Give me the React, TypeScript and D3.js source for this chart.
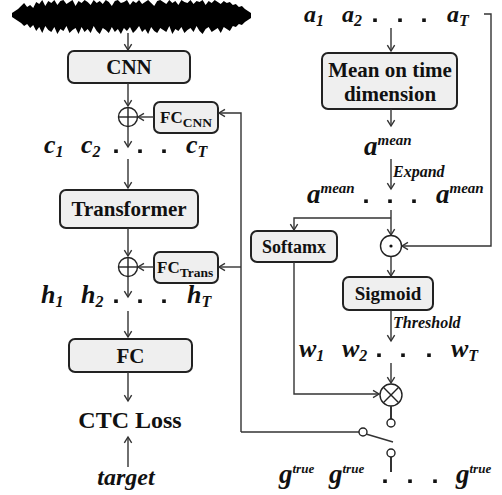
import { useMemo } from 'react'
import { scaleLinear, area, curveLinear } from 'd3'

// waveform envelope (px above / below the centre line)
const waveUp = [2,4,6,9,12,8,10,7,13,11,15,9,14,12,15,10,14,15,11,13,15,9,14,12,15,13,10,15,12,14,11,15,13,9,14,15,12,13,15,10,14,12,15,11,13,15,12,9,14,15,13,11,15,12,14,10,15,13,12,15,11,14,13,15,10,14,12,15,13,11,14,12,13,10,11,8,9,6,4,2]
const waveDown = [2,4,6,8,11,9,13,10,16,12,18,11,15,17,12,19,14,16,11,18,15,13,19,12,17,14,18,11,16,19,13,15,18,12,17,14,19,13,16,12,18,15,11,17,14,19,12,16,18,13,15,17,11,19,14,16,12,18,15,13,17,11,16,19,14,12,17,15,13,18,12,14,16,11,12,9,10,7,5,3]

const leftBoxes = ['CNN', 'Transformer', 'FC']
const fcSubs = ['CNN', 'Trans']
const subs = ['1', '2', 'T']
const meanLines = ['Mean on time', 'dimension']
const rightBoxes = ['Softamx', 'Sigmoid']
const edgeLabels = ['Expand', 'Threshold']

const LINE = '#333'
const SERIF = '"Liberation Serif", "Times New Roman", serif'

const Arrow = ({ pts }: { pts: number[][] }) => {
  const [x1, y1] = pts[pts.length - 2]
  const [x2, y2] = pts[pts.length - 1]
  const a = Math.atan2(y2 - y1, x2 - x1)
  const s = 7, w = 0.55
  const h1 = [x2 - s * Math.cos(a - w), y2 - s * Math.sin(a - w)]
  const h2 = [x2 - s * Math.cos(a + w), y2 - s * Math.sin(a + w)]
  return (
    <g stroke={LINE} strokeWidth={1.4} fill="none">
      <polyline points={pts.map(p => p.join(',')).join(' ')} />
      <polyline points={`${h1.join(',')} ${x2},${y2} ${h2.join(',')}`} />
    </g>
  )
}

const Line = ({ pts, w = 1.4 }: { pts: number[][], w?: number }) => (
  <polyline points={pts.map(p => p.join(',')).join(' ')} stroke={LINE} strokeWidth={w} fill="none" />
)

const Box = ({ x, y, w, h, label, size = 21 }: any) => (
  <g>
    <rect x={x} y={y} width={w} height={h} rx={6} fill="#efefef" stroke="#222" strokeWidth={2} />
    {label && (
      <text x={x + w / 2} y={y + h / 2 + size * 0.34} textAnchor="middle" fontSize={size} fontWeight="bold" fontFamily={SERIF} fill="#111">{label}</text>
    )}
  </g>
)

const Var = ({ x, y, v, sub, size = 26 }: any) => (
  <text x={x} y={y} fontSize={size} fontWeight="bold" fontStyle="italic" fontFamily={SERIF} fill="#111">
    {v}<tspan fontSize={16} dy={4}>{sub}</tspan>
  </text>
)

const Sup = ({ x, y, v, sup, size = 27, supSize = 15 }: any) => (
  <text x={x} y={y} fontSize={size} fontWeight="bold" fontStyle="italic" fontFamily={SERIF} fill="#111">
    {v}<tspan fontSize={supSize} dy={-10}>{sup}</tspan>
  </text>
)

const Dots = ({ xs, y }: { xs: number[], y: number }) => (
  <g>
    {xs.map((x, i) => <rect key={i} x={x - 1.8} y={y - 3.6} width={3.6} height={3.6} fill="#111" />)}
  </g>
)

const Node = ({ cx, cy, r = 9.5, kind }: any) => (
  <g stroke="#222" strokeWidth={1.4} fill="white">
    <circle cx={cx} cy={cy} r={r} />
    {kind === 'plus' && <>
      <line x1={cx - r} x2={cx + r} y1={cy} y2={cy} />
      <line x1={cx} x2={cx} y1={cy - r} y2={cy + r} />
    </>}
    {kind === 'times' && <>
      <line x1={cx - r * 0.7} x2={cx + r * 0.7} y1={cy - r * 0.7} y2={cy + r * 0.7} />
      <line x1={cx - r * 0.7} x2={cx + r * 0.7} y1={cy + r * 0.7} y2={cy - r * 0.7} />
    </>}
    {kind === 'dot' && <circle cx={cx} cy={cy} r={1.6} fill="#111" stroke="none" />}
  </g>
)

export default function App() {
  const wavePath = useMemo(() => {
    const x = scaleLinear().domain([0, waveUp.length - 1]).range([12, 251])
    const yc = 15
    return area<number>()
      .x((_, i) => x(i))
      .y0((_, i) => yc + waveDown[i])
      .y1(d => yc - d)
      .curve(curveLinear)(waveUp)
  }, [])

  const L = 128
  const R = 391

  return (
    <svg width={502} height={495} viewBox="0 0 502 495" style={{ position: 'absolute', left: 0, top: 0, background: 'white' }}>
      <defs>
        <filter id="soft" x="-5%" y="-20%" width="110%" height="140%">
          <feGaussianBlur stdDeviation="0.7" />
        </filter>
      </defs>
      <path d={wavePath || ''} fill="#000" filter="url(#soft)" />

      {/* left column */}
      <Arrow pts={[[L, 33], [L, 50]]} />
      <Box x={68} y={51} w={122} h={32} label={leftBoxes[0]} />
      <Arrow pts={[[L, 83], [L, 106]]} />
      <Node cx={L} cy={117} kind="plus" />
      <Box x={154} y={102} w={64} h={31} />
      <text x={160} y={123} fontSize={17} fontWeight="bold" fontFamily={SERIF} fill="#111">FC<tspan fontSize={13.5} dy={4}>{fcSubs[0]}</tspan></text>
      <Arrow pts={[[154, 117], [138, 117]]} />
      <Arrow pts={[[241, 432], [241, 113], [219, 113]]} />
      <Arrow pts={[[L, 127], [L, 147]]} />
      <Var x={44} y={153} v="c" sub={subs[0]} />
      <Var x={81} y={153} v="c" sub={subs[1]} />
      <Dots xs={[116, 140, 164]} y={153} />
      <Var x={186} y={153} v="c" sub={subs[2]} />

      <Arrow pts={[[L, 159], [L, 188]]} />
      <Box x={60} y={190} w={138} h={38} label={leftBoxes[1]} />
      <Arrow pts={[[L, 228], [L, 256]]} />
      <Node cx={L} cy={267} kind="plus" />
      <Box x={154} y={252} w={64} h={31} />
      <text x={157} y={273} fontSize={17} fontWeight="bold" fontFamily={SERIF} fill="#111">FC<tspan fontSize={13.5} dy={4}>{fcSubs[1]}</tspan></text>
      <Arrow pts={[[154, 267], [138, 267]]} />
      <Arrow pts={[[241, 267], [219, 267]]} />
      <Arrow pts={[[L, 277], [L, 297]]} />
      <Var x={41} y={303} v="h" sub={subs[0]} />
      <Var x={81} y={303} v="h" sub={subs[1]} />
      <Dots xs={[116, 140, 164]} y={303} />
      <Var x={187} y={303} v="h" sub={subs[2]} />

      <Arrow pts={[[L, 311], [L, 337]]} />
      <Box x={69} y={339} w={123} h={33} label={leftBoxes[2]} />
      <Arrow pts={[[L, 372], [L, 401]]} />
      <text x={130} y={428} textAnchor="middle" fontSize={24} fontWeight="bold" fontFamily={SERIF} fill="#111">CTC Loss</text>
      <Arrow pts={[[L, 467], [L, 437]]} />
      <text x={126} y={485} textAnchor="middle" fontSize={24} fontWeight="bold" fontStyle="italic" fontFamily={SERIF} fill="#111">target</text>

      {/* right column */}
      <Var x={304} y={22} v="a" sub={subs[0]} size={24} />
      <Var x={342} y={22} v="a" sub={subs[1]} size={24} />
      <Dots xs={[375, 400, 424]} y={22} />
      <Var x={447} y={22} v="a" sub={subs[2]} size={24} />
      <Arrow pts={[[484, 14], [491, 14], [491, 246], [402, 246]]} />
      <Arrow pts={[[R, 28], [R, 51]]} />
      <Box x={322} y={53} w={135} h={56} />
      {meanLines.map((t, i) => (
        <text key={t} x={390} y={77 + i * 24} textAnchor="middle" fontSize={21} fontWeight="bold" fontFamily={SERIF} fill="#111">{t}</text>
      ))}
      <Arrow pts={[[R, 109], [R, 126]]} />
      <Sup x={364} y={155} v="a" sup="mean" />
      <Arrow pts={[[R, 159], [R, 189]]} />
      <text x={393} y={177} fontSize={16} fontWeight="bold" fontStyle="italic" fontFamily={SERIF} fill="#111">{edgeLabels[0]}</text>
      <Sup x={307} y={203} v="a" sup="mean" />
      <Dots xs={[366, 390, 414]} y={203} />
      <Sup x={436} y={203} v="a" sup="mean" />

      <Arrow pts={[[R, 210], [R, 235]]} />
      <Arrow pts={[[R, 218], [294, 218], [294, 230]]} />
      <Box x={251} y={231} w={86} h={31} label={rightBoxes[0]} size={18} />
      <Node cx={R} cy={246} r={10.5} kind="dot" />
      <Arrow pts={[[R, 257], [R, 276]]} />
      <Box x={343} y={277} w={90} h={33} label={rightBoxes[1]} size={19} />
      <Arrow pts={[[R, 310], [R, 341]]} />
      <text x={393} y={328} fontSize={16} fontWeight="bold" fontStyle="italic" fontFamily={SERIF} fill="#111">{edgeLabels[1]}</text>
      <Var x={299} y={357} v="w" sub={subs[0]} />
      <Var x={342} y={357} v="w" sub={subs[1]} />
      <Dots xs={[379, 403, 429]} y={357} />
      <Var x={451} y={357} v="w" sub={subs[2]} />

      <Arrow pts={[[R, 363], [R, 383]]} />
      <Arrow pts={[[294, 262], [294, 394], [379, 394]]} />
      <Node cx={R} cy={395} r={11} kind="times" />
      <Line pts={[[R, 406], [R, 419]]} w={2} />
      <Line pts={[[241, 432], [359, 432]]} />
      <Line pts={[[366, 434], [393, 442]]} />
      <Line pts={[[R, 457], [R, 472]]} w={2} />
      <g fill="white" stroke="#222" strokeWidth={1.4}>
        <circle cx={R} cy={423} r={4} />
        <circle cx={363} cy={432} r={4} />
        <circle cx={R} cy={453} r={4} />
      </g>
      <Sup x={279} y={483} v="g" sup="true" size={27} supSize={13} />
      <Sup x={329} y={483} v="g" sup="true" size={27} supSize={13} />
      <Dots xs={[385, 410, 435]} y={483} />
      <Sup x={456} y={483} v="g" sup="true" size={27} supSize={13} />
    </svg>
  )
}
